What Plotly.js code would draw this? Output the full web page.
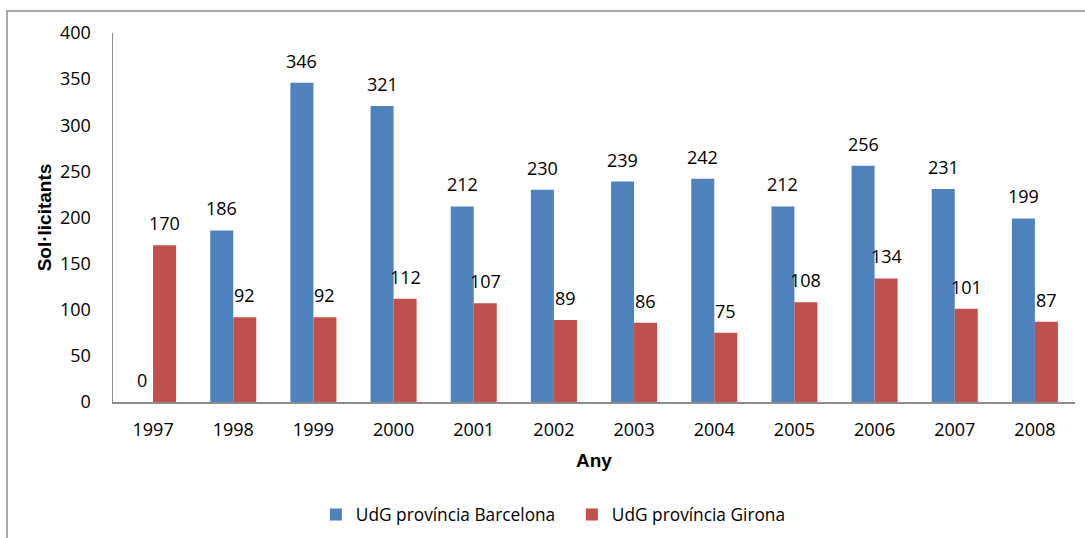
<!DOCTYPE html>
<html>
<head>
<meta charset="utf-8">
<script src="https://cdn.plot.ly/plotly-3.0.1.min.js"></script>
<style>
  html, body { margin: 0; padding: 0; background: #fff; }
  #chart { width: 1085px; height: 538px; }
</style>
</head>
<body>
<div id="chart"></div>
<script>
const years = ["1997", "1998", "1999", "2000", "2001", "2002", "2003", "2004", "2005", "2006", "2007", "2008"];
const barcelona = [0, 186, 346, 321, 212, 230, 239, 242, 212, 256, 231, 199];
const girona = [170, 92, 92, 112, 107, 89, 86, 75, 108, 134, 101, 87];
const seriesNames = ["UdG província Barcelona", "UdG província Girona"];
const seriesColors = ["#4F81BD", "#C0504D"];

const font = "'Open Sans', sans-serif";
const boldFont = "'Liberation Sans', Arial, sans-serif";

const data = [barcelona, girona].map(function (vals, k) {
  return {
    type: "bar",
    name: seriesNames[k],
    x: years,
    y: vals,
    marker: { color: seriesColors[k], line: { width: 0 } },
    hoverinfo: "x+y",
  };
});

// value labels above each bar (x given as category index)
const labels = [];
[barcelona, girona].forEach(function (vals, k) {
  vals.forEach(function (v, i) {
    labels.push({
      x: i,
      y: v,
      xref: "x",
      yref: "y",
      text: String(v),
      showarrow: false,
      xanchor: "center",
      yanchor: "middle",
      xshift: k === 0 ? -11.5 : 11.5,
      yshift: 22,
      font: { family: font, size: 18, color: "#000" },
    });
  });
});

const layout = {
  width: 1085,
  height: 538,
  margin: { l: 113, r: 10, t: 33, b: 136, autoexpand: false },
  paper_bgcolor: "#fff",
  plot_bgcolor: "#fff",
  barmode: "group",
  bargap: 0.426,
  bargroupgap: 0,
  showlegend: true,
  legend: {
    orientation: "h",
    x: 0.477,
    xanchor: "center",
    yref: "container",
    y: 0.043,
    yanchor: "middle",
    entrywidth: 211,
    entrywidthmode: "pixels",
    font: { family: font, size: 17.3, color: "#000" },
  },
  xaxis: {
    type: "category",
    range: [-0.5, 11.5],
    autorange: false,
    showline: true,
    linecolor: "#8c8c8c",
    linewidth: 1.5,
    showgrid: false,
    ticks: "",
    ticklabelstandoff: 11,
    tickfont: { family: font, size: 18, color: "#000" },
    automargin: true,
    title: { text: "Any", font: { family: boldFont, size: 19, color: "#000", weight: "bold" }, standoff: 13 },
  },
  yaxis: {
    range: [0, 400],
    autorange: false,
    dtick: 50,
    showline: true,
    linecolor: "#8c8c8c",
    linewidth: 1.5,
    showgrid: false,
    zeroline: false,
    ticks: "",
    ticklabelstandoff: 17,
    tickfont: { family: font, size: 18, color: "#000" },
    automargin: true,
    title: { text: "Sol·licitants", font: { family: boldFont, size: 19, color: "#000", weight: "bold" }, standoff: 3 },
  },
  annotations: labels,
  shapes: [
    {
      type: "rect",
      xref: "paper",
      yref: "paper",
      x0: -0.1102,
      x1: 1.02,
      y0: -0.39,
      y1: 1.0596,
      line: { color: "#8c8c8c", width: 1.5 },
      fillcolor: "rgba(0,0,0,0)",
      layer: "below",
    },
  ],
};

Plotly.newPlot("chart", data, layout, { displayModeBar: false, staticPlot: true });
</script>
</body>
</html>
